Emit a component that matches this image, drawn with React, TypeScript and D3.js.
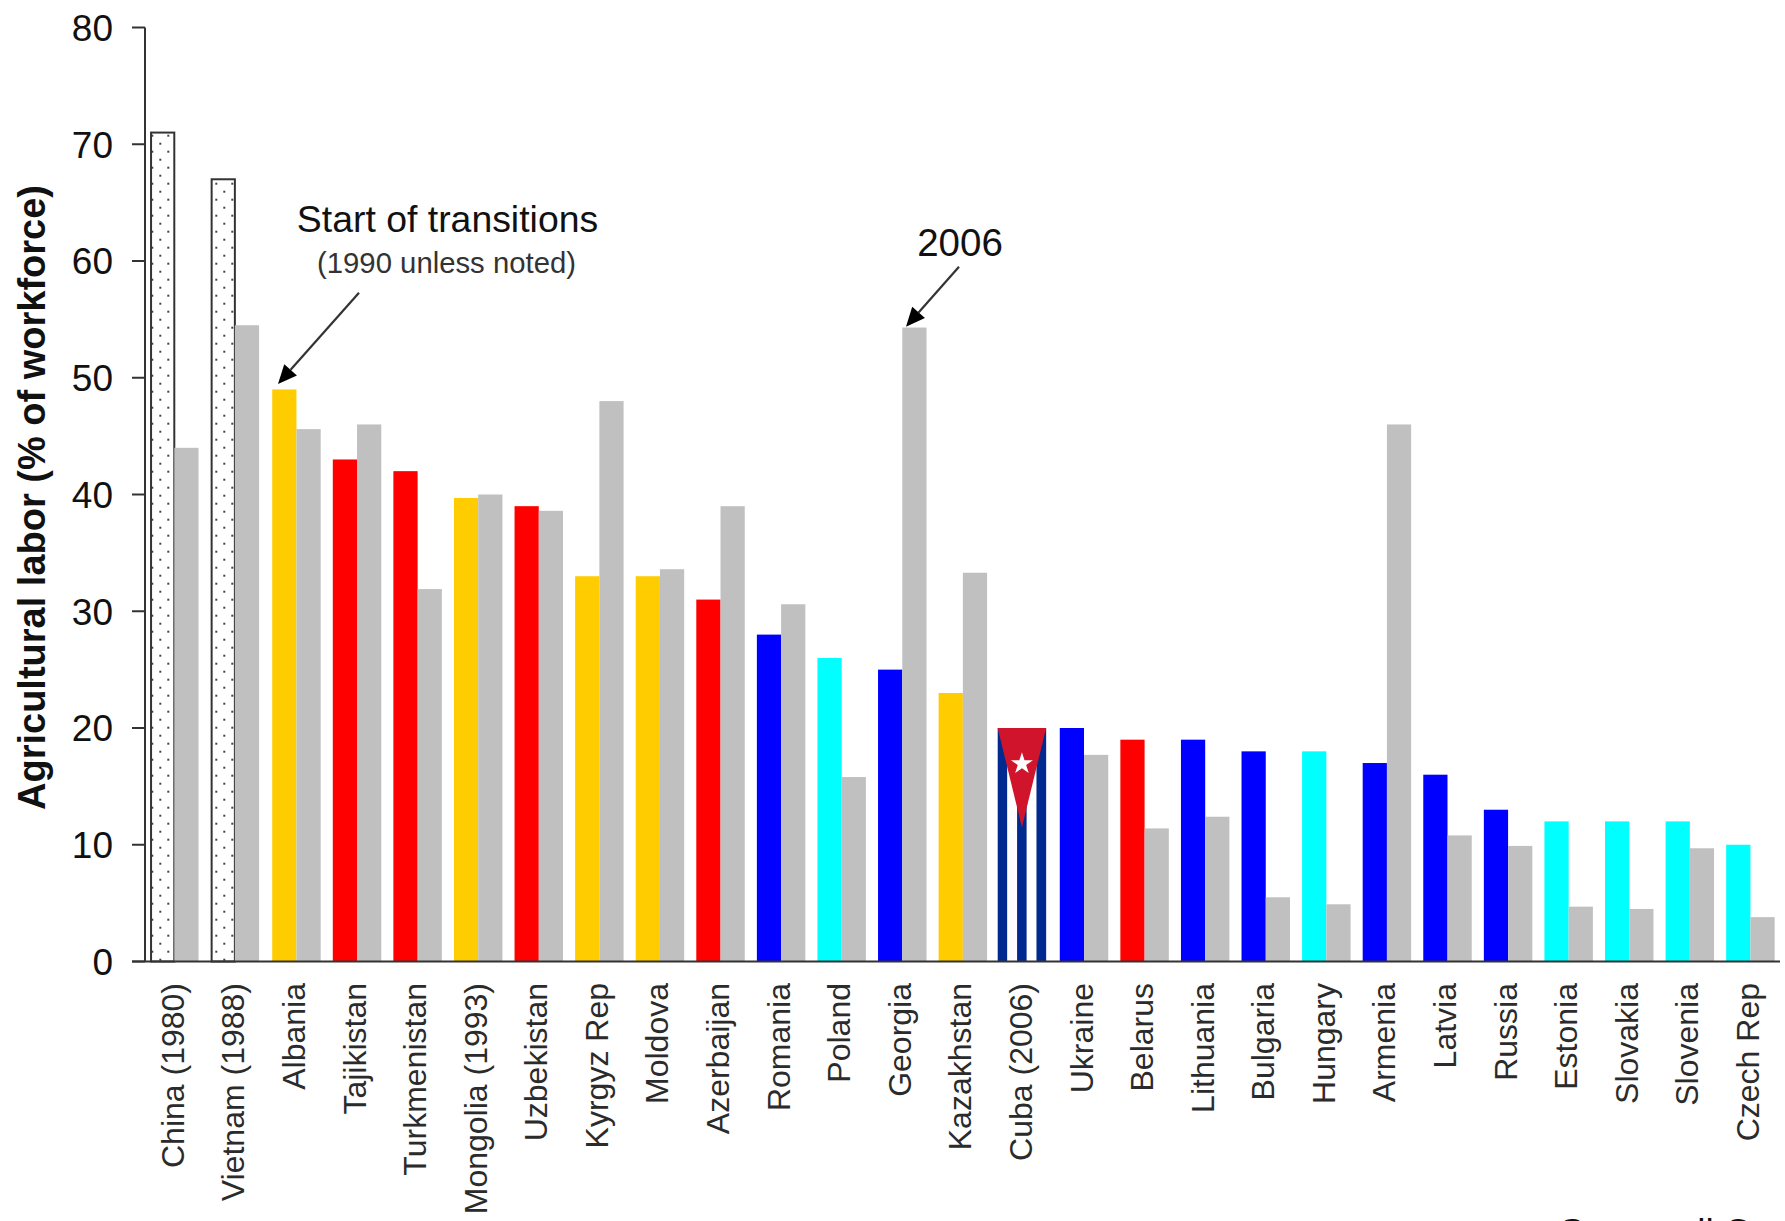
import React from "react";
import * as d3 from "d3";

// Agricultural share of the workforce at the start of transition and in 2006.
const countries = [
  "China (1980)", "Vietnam (1988)", "Albania", "Tajikistan", "Turkmenistan", "Mongolia (1993)",
  "Uzbekistan", "Kyrgyz Rep", "Moldova", "Azerbaijan", "Romania", "Poland", "Georgia", "Kazakhstan",
  "Cuba (2006)", "Ukraine", "Belarus", "Lithuania", "Bulgaria", "Hungary", "Armenia", "Latvia",
  "Russia", "Estonia", "Slovakia", "Slovenia", "Czech Rep",
];
const startValues = [
  71, 67, 49, 43, 42, 39.7, 39, 33, 33, 31, 28, 26, 25, 23, 20, 20, 19, 19, 18, 18, 17, 16, 13, 12, 12, 12, 10,
];
const latestValues: (number | null)[] = [
  44, 54.5, 45.6, 46, 31.9, 40, 38.6, 48, 33.6, 39, 30.6, 15.8, 54.3, 33.3, null, 17.7, 11.4, 12.4, 5.5, 4.9,
  46, 10.8, 9.9, 4.7, 4.5, 9.7, 3.8,
];
// Reform group of each country, which sets the colour of its starting bar.
const groups = [
  "asia", "asia", "yellow", "red", "red", "yellow", "red", "yellow", "yellow", "red", "blue", "cyan", "blue",
  "yellow", "cuba", "blue", "red", "blue", "blue", "cyan", "blue", "blue", "blue", "cyan", "cyan", "cyan", "cyan",
];
const groupColors: Record<string, string> = {
  yellow: "#FFCC00",
  red: "#FF0000",
  blue: "#0000FF",
  cyan: "#00FFFF",
};
const LATEST_COLOR = "#C0C0C0";
const INK = "#333333";
const FLAG_BLUE = "#002A8F";
const FLAG_RED = "#CF142B";
const FLAG_STRIPES = [0, 1, 2, 3, 4];

const WIDTH = 1785;
const HEIGHT = 1221;
const FONT = "'Liberation Sans', Arial, sans-serif";

const x = d3.scaleBand<string>().domain(countries).range([145, 1780.7]);
const inner = d3
  .scaleBand<string>()
  .domain(["start", "latest"])
  .range([0, x.bandwidth()])
  .paddingOuter(0.25);
const y = d3.scaleLinear().domain([0, 80]).range([961.5, 27.5]);

function Arrow({ from, to }: { from: [number, number]; to: [number, number] }) {
  const angle = Math.atan2(to[1] - from[1], to[0] - from[0]);
  const len = 19;
  const half = 8.5;
  const bx = to[0] - len * Math.cos(angle);
  const by = to[1] - len * Math.sin(angle);
  const nx = -Math.sin(angle);
  const ny = Math.cos(angle);
  return (
    <g>
      <line x1={from[0]} y1={from[1]} x2={bx} y2={by} stroke={INK} strokeWidth={2.2} />
      <path
        d={`M${to[0]},${to[1]}L${bx + nx * half},${by + ny * half}L${bx - nx * half},${by - ny * half}Z`}
        fill="#000"
      />
    </g>
  );
}

// Cuba's bar is a flag filling both bar slots: five stripes, red triangle and star.
function CubaFlag({ name, value }: { name: string; value: number }) {
  const left = (x(name) as number) + (inner("start") as number) - 1.5;
  const width = inner.bandwidth() * 2;
  const top = y(value);
  const height = y(0) - top;
  const stripe = width / FLAG_STRIPES.length;
  const cx = left + width / 2;
  const apexY = top + height * 0.425;
  const star = d3.symbol().type(d3.symbolStar).size(150)();
  return (
    <g>
      {FLAG_STRIPES.map((i) => (
        <rect
          key={i}
          x={left + i * stripe}
          y={top}
          width={stripe}
          height={height}
          fill={i % 2 === 0 ? FLAG_BLUE : "#fff"}
        />
      ))}
      <path d={`M${left},${top}L${left + width},${top}L${cx},${apexY}Z`} fill={FLAG_RED} />
      <path d={star as string} transform={`translate(${cx},${top + height * 0.153})`} fill="#fff" />
    </g>
  );
}

export default function App() {
  return (
    <svg
      width={WIDTH}
      height={HEIGHT}
      viewBox={`0 0 ${WIDTH} ${HEIGHT}`}
      style={{ position: "absolute", left: 0, top: 0, background: "#fff", fontFamily: FONT }}
    >
      <defs>
        <pattern id="dots" patternUnits="userSpaceOnUse" width={16} height={16} x={151.3} y={150.7}>
          <rect x={0} y={0} width={2} height={2} fill="#444" />
          <rect x={8} y={8} width={2} height={2} fill="#444" />
        </pattern>
      </defs>

      {countries.map((name, i) => {
        const left = x(name) as number;
        const group = groups[i];
        const latest = latestValues[i];
        return (
          <g key={name}>
            {group === "cuba" ? (
              <CubaFlag name={name} value={startValues[i]} />
            ) : group === "asia" ? (
              <rect
                x={left + (inner("start") as number)}
                y={y(startValues[i])}
                width={inner.bandwidth() - 1}
                height={y(0) - y(startValues[i])}
                fill="url(#dots)"
                stroke={INK}
                strokeWidth={2}
              />
            ) : (
              <rect
                x={left + (inner("start") as number)}
                y={y(startValues[i])}
                width={inner.bandwidth()}
                height={y(0) - y(startValues[i])}
                fill={groupColors[group]}
              />
            )}
            {latest !== null && (
              <rect
                x={left + (inner("latest") as number) - (group === "asia" ? 1 : 0)}
                y={y(latest)}
                width={inner.bandwidth()}
                height={y(0) - y(latest)}
                fill={LATEST_COLOR}
              />
            )}
            <text
              transform={`translate(${left + x.bandwidth() / 2 + 8.5},983) rotate(-90)`}
              textAnchor="end"
              fontSize={32}
              fill="#2b2b2b"
            >
              {name}
            </text>
          </g>
        );
      })}

      {/* Value axis */}
      <line x1={145} x2={145} y1={y(80)} y2={y(0)} stroke={INK} strokeWidth={2} />
      {y.ticks(8).map((t) => (
        <g key={t} transform={`translate(0,${y(t)})`}>
          <line x1={132} x2={145} stroke={INK} strokeWidth={2} />
          <text x={113} dy="0.36em" textAnchor="end" fontSize={37} fill="#111">
            {t}
          </text>
        </g>
      ))}
      <text
        transform="translate(45,497.5) rotate(-90)"
        textAnchor="middle"
        fontSize={38}
        fontWeight="bold"
        fill="#111"
      >
        Agricultural labor (% of workforce)
      </text>

      {/* Category axis line */}
      <line x1={132} x2={1780} y1={y(0)} y2={y(0)} stroke={INK} strokeWidth={2} />

      {/* Annotations */}
      <text x={447.5} y={232} textAnchor="middle" fontSize={37.4} fill="#111">
        Start of transitions
      </text>
      <text x={446.5} y={272.5} textAnchor="middle" fontSize={29.3} fill="#333">
        (1990 unless noted)
      </text>
      <Arrow from={[359, 292.7]} to={[278, 384]} />
      <text x={960} y={256} textAnchor="middle" fontSize={38.5} fill="#111">
        2006
      </text>
      <Arrow from={[959, 266.7]} to={[906, 326.7]} />

      {/* Source line, running off the foot of the page */}
      <text x={1559.5} y={1245} fontSize={37} fill="#111">
        Source: ll Ca
      </text>
    </svg>
  );
}
